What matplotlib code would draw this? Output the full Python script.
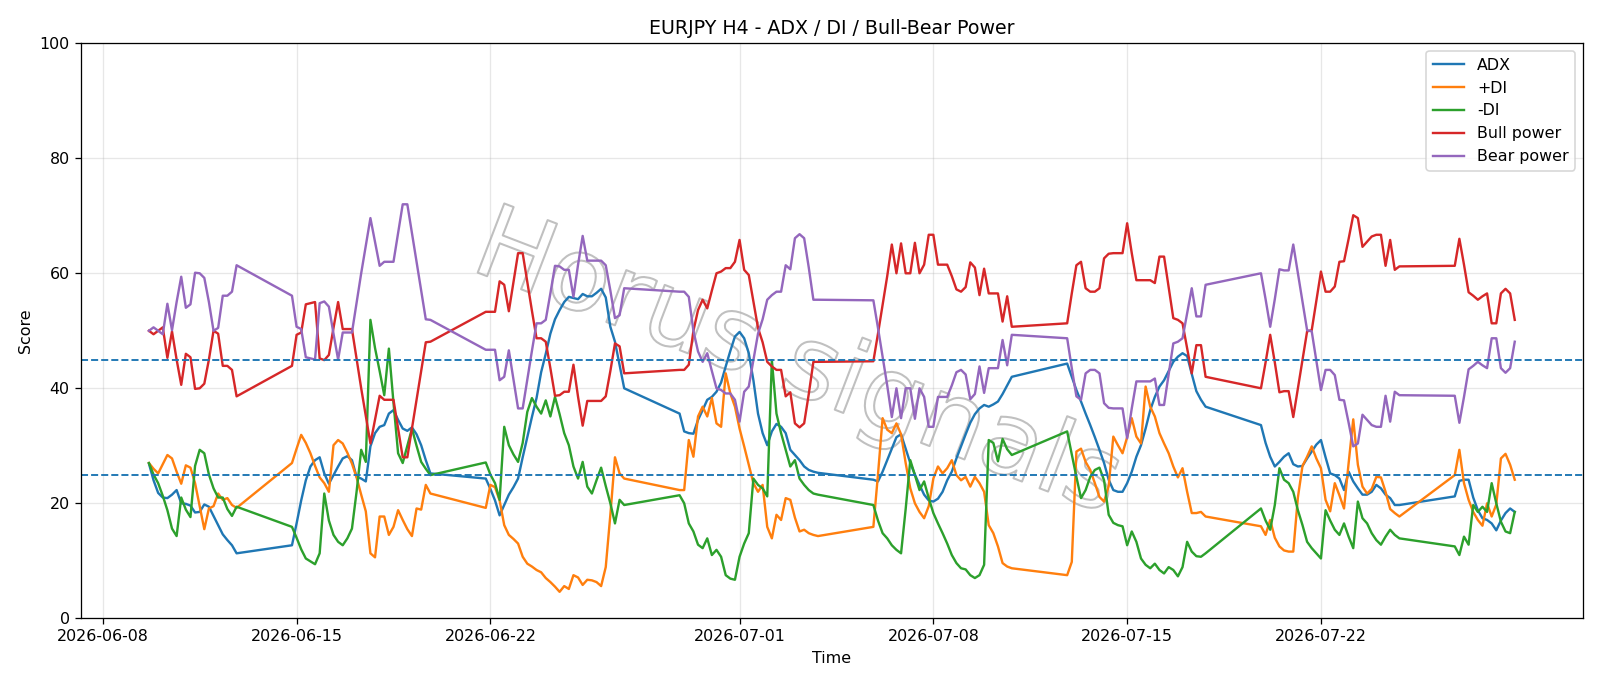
import matplotlib
matplotlib.use("Agg")
import matplotlib.pyplot as plt
import matplotlib.patheffects as pe
import pandas as pd

# H4 bars from 2026-06-09 16:00 to 2026-07-29 00:00, weekend (Fri 20:00 -> Sun 20:00) has no bars
bars = pd.date_range("2026-06-09 16:00", "2026-07-29 00:00", freq="4h")
bars = bars[~((bars.dayofweek == 5) | ((bars.dayofweek == 6) & (bars.hour < 20)))]

# one row per trading week
adx = [
    26.9, 24.0, 21.8, 21.0, 20.9, 21.5, 22.3, 20.0, 19.9, 19.6, 18.4, 18.5, 19.8, 19.4, 17.8, 16.2, 14.6, 13.6, 12.7, 11.3,
    12.7, 16.5, 20.5, 24.0, 26.4, 27.5, 28.0, 25.2, 23.4, 24.9, 26.4, 27.8, 28.2, 27.5, 24.6, 24.3, 23.8, 29.9, 32.2, 33.3, 33.6, 35.6, 36.2, 34.5, 33.0, 32.6, 33.2, 32.0, 30.1, 27.5, 25.2,
    24.3, 22.5, 20.5, 17.9, 19.7, 21.5, 22.8, 24.3, 28.0, 31.5, 35.0, 38.3, 42.8, 46.0, 49.5, 52.0, 53.6, 55.0, 55.9, 55.7, 55.5, 56.4, 56.0, 56.0, 56.6, 57.3, 55.8, 50.7, 48.1, 44.0, 40.0,
    35.6, 32.5, 32.2, 32.1, 34.5, 36.2, 38.0, 38.5, 39.4, 41.0, 43.8, 46.5, 49.0, 49.8, 48.7, 46.1, 41.4, 35.6, 32.2, 30.1, 32.5, 33.8, 33.3, 32.2, 29.3, 28.4, 27.5, 26.4, 25.8, 25.5, 25.3,
    24.1, 23.8, 25.5, 27.5, 29.5, 31.5, 32.0, 29.5, 27.0, 25.0, 23.2, 21.5, 20.5, 20.3, 20.8, 22.0, 24.0, 25.5, 27.8, 29.9, 32.0, 34.0, 35.5, 36.5, 37.1, 36.8, 37.2, 37.7, 39.0, 40.5, 42.0,
    44.3, 42.0, 39.7, 37.7, 35.6, 33.6, 31.5, 29.3, 27.0, 24.1, 22.3, 22.0, 22.0, 23.5, 25.5, 28.1, 30.1, 33.0, 36.2, 38.5, 40.3, 41.4, 43.0, 44.6, 45.5, 46.1, 45.6, 42.5, 39.5, 38.0, 36.8,
    33.6, 30.5, 28.1, 26.4, 27.2, 28.1, 28.7, 26.8, 26.4, 26.5, 27.8, 29.0, 30.2, 31.0, 28.0, 25.2, 24.9, 24.3, 22.3, 25.5, 23.8, 22.6, 21.5, 21.5, 22.0, 23.2, 22.6, 21.5, 20.9, 19.7, 19.7,
    21.2, 23.9, 24.1, 24.1, 21.0, 18.8, 17.4, 17.1, 16.5, 15.3, 17.0, 18.3, 19.1, 18.5,
]
plus_di = [
    27.0, 26.0, 25.2, 26.8, 28.4, 27.8, 25.5, 23.4, 26.6, 26.2, 23.5, 19.5, 15.5, 19.1, 19.5, 21.7, 20.6, 20.9, 19.7, 19.2,
    27.0, 29.5, 31.9, 30.5, 28.7, 26.5, 24.5, 23.5, 22.0, 30.1, 31.0, 30.4, 28.8, 26.9, 24.5, 21.5, 18.6, 11.3, 10.6, 17.7, 17.7, 14.5, 15.9, 18.8, 17.1, 15.5, 14.3, 19.1, 18.9, 23.2, 21.7,
    19.2, 23.2, 22.8, 20.5, 16.2, 14.5, 13.8, 13.0, 10.7, 9.5, 9.0, 8.4, 8.0, 7.0, 6.3, 5.5, 4.6, 5.6, 5.1, 7.5, 7.1, 5.8, 6.7, 6.6, 6.3, 5.6, 8.9, 18.0, 28.0, 25.2, 24.3,
    22.3, 22.3, 31.0, 28.1, 35.1, 36.8, 35.1, 38.3, 33.9, 33.3, 42.6, 39.1, 36.8, 33.0, 29.9, 26.7, 23.5, 22.0, 23.2, 15.9, 13.9, 18.0, 17.1, 20.9, 20.6, 17.5, 15.1, 15.4, 14.8, 14.5, 14.3,
    15.9, 25.0, 34.8, 32.8, 32.2, 33.9, 32.0, 27.0, 22.6, 20.0, 18.5, 17.4, 19.5, 24.3, 26.4, 25.2, 26.1, 27.5, 24.9, 24.0, 24.6, 22.9, 24.6, 23.5, 22.0, 16.2, 14.8, 12.5, 9.6, 9.0, 8.7,
    7.5, 9.8, 29.0, 29.5, 27.2, 25.8, 23.5, 21.1, 20.3, 23.0, 31.6, 30.1, 28.7, 31.5, 34.8, 31.6, 30.4, 40.3, 36.8, 35.1, 32.2, 30.4, 28.7, 26.4, 24.5, 26.1, 22.0, 18.3, 18.3, 18.5, 17.7,
    16.0, 14.5, 17.1, 14.0, 12.5, 11.8, 11.6, 11.6, 21.0, 26.5, 28.1, 29.9, 27.8, 26.1, 20.6, 18.6, 23.5, 21.4, 19.1, 27.0, 34.6, 26.7, 22.9, 21.7, 22.5, 24.6, 24.5, 22.0, 19.0, 18.3, 17.7,
    24.9, 29.3, 23.5, 20.6, 18.5, 17.1, 16.1, 20.0, 17.7, 19.8, 27.8, 28.6, 26.7, 24.1,
]
minus_di = [
    27.0, 25.0, 23.5, 21.3, 18.8, 15.6, 14.3, 21.0, 18.9, 17.6, 26.5, 29.3, 28.7, 25.0, 22.6, 21.0, 21.0, 19.0, 17.8, 19.4,
    15.9, 14.0, 12.0, 10.4, 9.9, 9.4, 11.3, 21.7, 17.0, 14.5, 13.3, 12.7, 13.9, 15.6, 22.0, 29.3, 27.2, 51.9, 47.0, 43.0, 38.8, 46.9, 37.5, 28.7, 27.0, 30.0, 33.0, 30.0, 27.2, 26.0, 24.9,
    27.1, 25.0, 23.5, 20.6, 33.3, 30.1, 28.5, 27.2, 30.5, 35.9, 38.3, 36.8, 35.6, 37.9, 35.1, 38.5, 35.5, 32.2, 30.1, 26.4, 24.3, 27.2, 22.9, 21.7, 24.0, 26.2, 23.0, 20.0, 16.5, 20.6, 19.7,
    21.4, 20.0, 16.5, 15.1, 12.8, 12.2, 13.9, 11.0, 11.9, 10.7, 7.5, 6.9, 6.7, 10.7, 13.0, 14.8, 24.3, 23.2, 22.6, 21.2, 44.9, 35.6, 32.2, 29.3, 26.4, 27.5, 24.3, 23.2, 22.3, 21.7, 21.5,
    19.7, 17.0, 14.8, 13.9, 12.7, 11.9, 11.3, 19.0, 27.5, 24.9, 22.3, 23.8, 20.9, 18.3, 16.5, 14.8, 13.0, 11.0, 9.6, 8.7, 8.5, 7.5, 7.0, 7.5, 9.3, 31.0, 30.5, 27.3, 31.2, 29.4, 28.4,
    32.5, 28.5, 24.6, 20.9, 22.3, 24.6, 25.8, 26.2, 24.0, 18.0, 16.6, 16.2, 16.0, 12.7, 15.1, 13.3, 10.4, 9.3, 8.7, 9.5, 8.4, 7.8, 8.9, 8.4, 7.3, 8.9, 13.3, 11.6, 10.8, 10.7, 11.3,
    19.1, 17.0, 15.4, 19.7, 26.1, 24.1, 23.5, 22.0, 18.8, 16.2, 13.3, 12.2, 11.3, 10.4, 18.8, 17.0, 15.4, 14.5, 16.5, 14.2, 12.2, 20.3, 17.4, 16.5, 14.8, 13.6, 12.8, 14.2, 15.4, 14.5, 13.9,
    12.5, 11.0, 14.2, 12.8, 19.7, 18.5, 19.4, 18.5, 23.5, 20.0, 16.8, 15.1, 14.8, 18.5,
]
bull_power = [
    50.0, 49.4, 50.0, 50.6, 45.3, 49.9, 45.0, 40.6, 46.0, 45.4, 39.9, 40.0, 40.8, 45.0, 50.0, 49.5, 43.9, 43.9, 43.2, 38.6,
    43.9, 49.3, 49.7, 54.6, 54.8, 55.0, 45.2, 44.9, 45.8, 50.5, 55.0, 50.3, 50.3, 50.3, 45.2, 40.0, 35.2, 30.4, 34.5, 38.7, 38.0, 38.0, 38.0, 33.0, 28.0, 28.0, 33.0, 38.0, 43.0, 48.0, 48.1,
    53.3, 53.3, 53.3, 58.6, 58.0, 53.4, 58.5, 63.5, 63.5, 58.5, 53.5, 48.7, 48.7, 48.1, 43.5, 38.7, 38.8, 39.4, 39.4, 44.1, 38.5, 33.5, 37.8, 37.8, 37.8, 37.8, 38.6, 43.0, 47.8, 47.3, 42.6,
    43.2, 43.2, 44.1, 50.0, 53.6, 55.4, 53.9, 57.0, 60.0, 60.3, 60.9, 60.9, 62.0, 65.8, 60.6, 59.7, 55.1, 50.5, 48.0, 44.6, 43.8, 43.2, 43.2, 38.6, 39.3, 33.9, 33.2, 33.9, 39.0, 44.6, 44.6,
    44.7, 49.5, 54.5, 59.5, 65.0, 60.0, 65.2, 60.0, 60.0, 65.3, 60.0, 61.5, 66.7, 66.7, 61.5, 61.5, 61.5, 59.5, 57.2, 56.8, 57.6, 61.9, 61.0, 56.2, 60.8, 56.5, 56.5, 56.5, 51.6, 56.0, 50.7,
    51.3, 56.5, 61.4, 62.0, 57.4, 56.8, 56.8, 57.4, 62.6, 63.4, 63.5, 63.5, 63.5, 68.7, 63.5, 58.8, 58.8, 58.8, 58.8, 58.3, 62.9, 62.9, 57.5, 52.2, 51.9, 51.3, 47.0, 42.6, 47.5, 47.5, 42.0,
    40.0, 44.5, 49.3, 44.5, 39.3, 39.5, 39.5, 35.0, 40.0, 45.0, 49.9, 50.1, 55.2, 60.3, 56.8, 56.8, 57.7, 62.0, 62.1, 66.0, 70.1, 69.6, 64.6, 65.5, 66.4, 66.7, 66.7, 61.3, 65.8, 60.6, 61.2,
    61.3, 66.0, 61.5, 56.7, 56.1, 55.4, 56.0, 56.5, 51.3, 51.3, 56.5, 57.3, 56.5, 51.9,
]
bear_power = [
    50.0, 50.6, 50.0, 49.4, 54.7, 50.1, 55.0, 59.4, 54.0, 54.6, 60.1, 60.0, 59.2, 55.0, 50.0, 50.5, 56.1, 56.1, 56.8, 61.4,
    56.1, 50.7, 50.3, 45.4, 45.2, 45.0, 54.8, 55.1, 54.2, 49.5, 45.0, 49.7, 49.7, 49.7, 54.8, 60.0, 64.8, 69.6, 65.5, 61.3, 62.0, 62.0, 62.0, 67.0, 72.0, 72.0, 67.0, 62.0, 57.0, 52.0, 51.9,
    46.7, 46.7, 46.7, 41.4, 42.0, 46.6, 41.5, 36.5, 36.5, 41.5, 46.5, 51.3, 51.3, 51.9, 56.5, 61.3, 61.2, 60.6, 60.6, 55.9, 61.5, 66.5, 62.2, 62.2, 62.2, 62.2, 61.4, 57.0, 52.2, 52.7, 57.4,
    56.8, 56.8, 55.9, 50.0, 46.4, 44.6, 46.1, 43.0, 40.0, 39.7, 39.1, 39.1, 38.0, 34.2, 39.4, 40.3, 44.9, 49.5, 52.0, 55.4, 56.2, 56.8, 56.8, 61.4, 60.7, 66.1, 66.8, 66.1, 61.0, 55.4, 55.4,
    55.3, 50.5, 45.5, 40.5, 35.0, 40.0, 34.8, 40.0, 40.0, 34.7, 40.0, 38.5, 33.3, 33.3, 38.5, 38.5, 38.5, 40.5, 42.8, 43.2, 42.4, 38.1, 39.0, 43.8, 39.2, 43.5, 43.5, 43.5, 48.4, 44.0, 49.3,
    48.7, 43.5, 38.6, 38.0, 42.6, 43.2, 43.2, 42.6, 37.4, 36.6, 36.5, 36.5, 36.5, 31.3, 36.5, 41.2, 41.2, 41.2, 41.2, 41.7, 37.1, 37.1, 42.5, 47.8, 48.1, 48.7, 53.0, 57.4, 52.5, 52.5, 58.0,
    60.0, 55.5, 50.7, 55.5, 60.7, 60.5, 60.5, 65.0, 60.0, 55.0, 50.1, 49.9, 44.8, 39.7, 43.2, 43.2, 42.3, 38.0, 37.9, 34.0, 29.9, 30.4, 35.4, 34.5, 33.6, 33.3, 33.3, 38.7, 34.2, 39.4, 38.8,
    38.7, 34.0, 38.5, 43.3, 43.9, 44.6, 44.0, 43.5, 48.7, 48.7, 43.5, 42.7, 43.5, 48.1,
]

levels = [25, 45]

fig, ax = plt.subplots(figsize=(14, 6.0025), dpi=1600 / 14)
fig.subplots_adjust(left=0.0504, right=0.9894, bottom=0.0987, top=0.9369)

# watermark: hollow light-grey letters behind the lines
ax.text(0.477, 0.44, "Horus signals", transform=ax.transAxes, fontsize=64,
        rotation=-21, ha="center", va="center", color="none",
        path_effects=[pe.Stroke(linewidth=1.3, foreground="#c0c0c0")], zorder=1)

ax.plot(bars, adx, label="ADX")
ax.plot(bars, plus_di, label="+DI")
ax.plot(bars, minus_di, label="-DI")
ax.plot(bars, bull_power, label="Bull power")
ax.plot(bars, bear_power, label="Bear power")
for lvl in levels:
    ax.axhline(lvl, linestyle="--", linewidth=1.2)

ax.set_ylim(0, 100)
ax.set_title("EURJPY H4 - ADX / DI / Bull-Bear Power")
ax.set_xlabel("Time")
ax.set_ylabel("Score")
ax.grid(True, alpha=0.3)
ax.legend(loc="upper right")

fig.savefig("out.png")
